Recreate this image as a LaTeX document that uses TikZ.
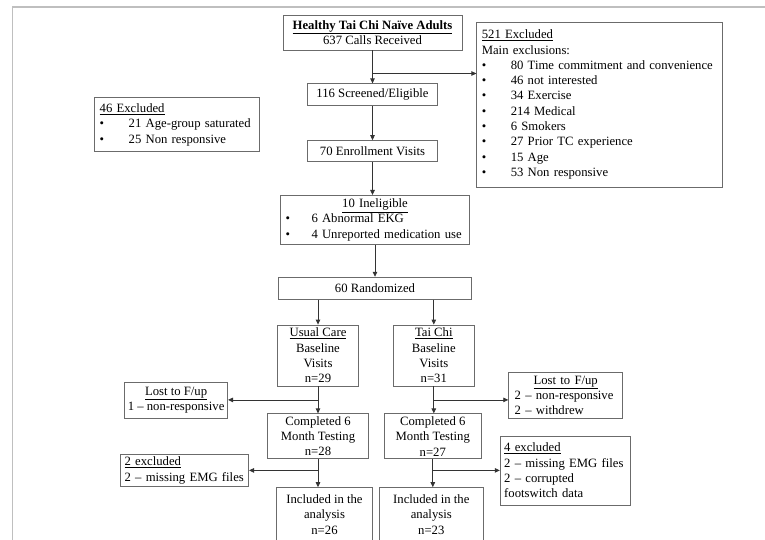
\documentclass[tikz,border=0pt]{standalone}
\usepackage{fontspec}
\setmainfont{Liberation Serif}
\usepackage{tikz}
\usetikzlibrary{arrows.meta, positioning, calc}

\definecolor{boxgray}{gray}{0.42}
\definecolor{linegray}{gray}{0.2}
\definecolor{framegray}{gray}{0.75}
\newcommand{\flowfont}{\fontsize{12.7}{15.3}\selectfont}
\newcommand{\bul}[1][29pt]{\makebox[#1][l]{\textbullet}}

\begin{document}
\begin{tikzpicture}[
    x=1pt, y=-1pt,
    % Styles
    flowbox/.style={draw=boxgray, line width=0.8pt, inner sep=0pt, align=center, font=\flowfont},
    listbox/.style={flowbox, align=left, inner xsep=5pt},
    flowarrow/.style={draw=linegray, line width=0.8pt, -{Triangle[length=5pt, width=4.5pt]}}
]
    \useasboundingbox (0,0) rectangle (765,540);

    % Page frame
    \draw[framegray, line width=1.2pt] (12.5,540) -- (12.5,7) -- (765,7);

    % Recruitment column
    \node[flowbox, minimum width=179pt, minimum height=35pt] (top) at (372.5,32.5)
        {\textbf{\underline{Healthy Tai Chi Naïve Adults}}\\637 Calls Received};
    \node[flowbox, minimum width=130pt, minimum height=22pt, below=33pt of top] (screened) {116 Screened/Eligible};
    \node[flowbox, minimum width=130pt, minimum height=21pt, below=34pt of screened] (enroll) {70 Enrollment Visits};
    \node[listbox, text width=179pt, minimum height=49pt, below=33pt of enroll, xshift=2.5pt] (inelig)
        {\makebox[179pt]{\underline{10 Ineligible}}\\
         \bul[26pt]6 Abnormal EKG\\
         \bul[26pt]4 Unreported medication use};
    \node[flowbox, minimum width=193pt, minimum height=22pt, below=32pt of inelig] (random) {60 Randomized};

    % Exclusion boxes at the top
    \node[listbox, text width=236pt, minimum height=165pt, right=14pt of top.north east, anchor=north west, yshift=-7pt] (excl521)
        {\underline{521 Excluded}\\
         Main exclusions:\\
         \bul80 Time commitment and convenience\\
         \bul46 not interested\\
         \bul34 Exercise\\
         \bul214 Medical\\
         \bul6 Smokers\\
         \bul27 Prior TC experience\\
         \bul15 Age\\
         \bul53 Non responsive};
    \node[listbox, text width=155pt, minimum height=54pt, left=47pt of screened.north west, anchor=north east, yshift=-14pt] (excl46)
        {\underline{46 Excluded}\\
         \bul21 Age-group saturated\\
         \bul25 Non responsive};

    % Usual Care and Tai Chi arms
    \node[flowbox, minimum width=81pt, minimum height=61pt, below=25pt of random, xshift=-57pt] (ucbase)
        {\underline{Usual Care}\\Baseline\\Visits\\n=29};
    \node[flowbox, minimum width=81pt, minimum height=61pt, right=34pt of ucbase] (tcbase)
        {\underline{Tai Chi}\\Baseline\\Visits\\n=31};
    \node[flowbox, minimum width=101pt, minimum height=45pt, below=27pt of ucbase] (ucdone)
        {Completed 6\\Month Testing\\n=28};
    \node[flowbox, minimum width=97pt, minimum height=45pt, below=27pt of tcbase, xshift=-1pt] (tcdone)
        {Completed 6\\Month Testing\\n=27};
    \node[flowbox, minimum width=96pt, minimum height=54pt, below=28pt of ucdone, xshift=6.5pt] (ucincl)
        {Included in the\\analysis\\n=26};
    \node[flowbox, minimum width=104pt, minimum height=54pt, below=28pt of tcdone, xshift=-1.5pt] (tcincl)
        {Included in the\\analysis\\n=23};

    % Split points on the arm lines
    \coordinate (topsplit) at ($(top.south)!0.7!(screened.north)$);
    \coordinate (ucsplit) at ($(ucbase.south)!0.5!(ucdone.north)$);
    \coordinate (tcsplit) at ($(tcbase.south)!0.5!(tcdone.north)$);
    \coordinate (ucjoin) at ($(ucdone.south)!0.4!(ucdone.south |- ucincl.north)$);
    \coordinate (tcjoin) at ($(tcdone.south)!0.4!(tcdone.south |- tcincl.north)$);

    % Drop-out boxes
    \node[flowbox, minimum width=103pt, minimum height=36pt, left=90pt of ucsplit] (lostuc)
        {\underline{Lost to F/up}\\1 -- non-responsive};
    \node[listbox, inner xsep=6pt, text width=102pt, minimum height=46pt, right=75pt of tcsplit, yshift=4.5pt] (losttc)
        {\makebox[102pt]{\underline{Lost to F/up}}\\
         2 -- non-responsive\\
         2 -- withdrew};
    \node[listbox, inner xsep=4pt, text width=120pt, minimum height=32pt, left=69pt of ucjoin] (exuc)
        {\underline{2 excluded}\\2 -- missing EMG files};
    \node[listbox, inner xsep=4pt, text width=122pt, minimum height=69pt, right=67pt of tcjoin] (extc)
        {\underline{4 excluded}\\2 -- missing EMG files\\2 -- corrupted\\footswitch data};

    % Arrows
    \draw[flowarrow] (top.south) -- (top.south |- screened.north);
    \draw[flowarrow] (topsplit) -- (topsplit -| excl521.west);
    \draw[flowarrow] (screened) -- (enroll);
    \draw[flowarrow] (enroll.south) -- (enroll.south |- inelig.north);
    \draw[flowarrow] (inelig) -- (random);
    \draw[flowarrow] (ucbase.north |- random.south) -- (ucbase.north);
    \draw[flowarrow] (tcbase.north |- random.south) -- (tcbase.north);
    \draw[flowarrow] (ucbase) -- (ucdone);
    \draw[flowarrow] (ucsplit) -- (lostuc.east);
    \draw[flowarrow] (tcbase.south) -- (tcbase.south |- tcdone.north);
    \draw[flowarrow] (tcsplit) -- (tcsplit -| losttc.west);
    \draw[flowarrow] (ucdone.south) -- (ucdone.south |- ucincl.north);
    \draw[flowarrow] (ucjoin) -- (exuc.east);
    \draw[flowarrow] (tcdone.south) -- (tcdone.south |- tcincl.north);
    \draw[flowarrow] (tcjoin) -- (extc.west);
\end{tikzpicture}
\end{document}
